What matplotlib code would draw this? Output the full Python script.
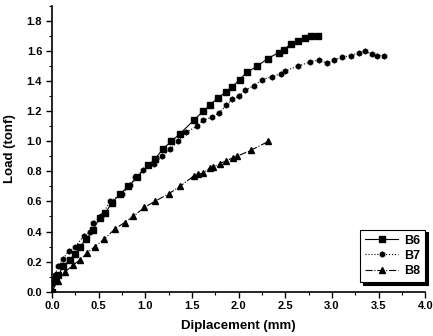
import numpy as np
import matplotlib
matplotlib.use("Agg")
import matplotlib.pyplot as plt
from matplotlib.ticker import MultipleLocator

# load-displacement data
b6_x = [0, 0.03, 0.07, 0.12, 0.19, 0.25, 0.30, 0.37, 0.44, 0.51, 0.57, 0.64, 0.73,
        0.82, 0.91, 1.03, 1.10, 1.19, 1.28, 1.37, 1.52, 1.62, 1.69, 1.78, 1.87, 1.93,
        2.01, 2.09, 2.20, 2.31, 2.43, 2.49, 2.56, 2.64, 2.71, 2.78, 2.85]
b6_y = [0, 0.08, 0.11, 0.17, 0.21, 0.25, 0.30, 0.35, 0.41, 0.49, 0.52, 0.59, 0.65,
        0.70, 0.76, 0.84, 0.88, 0.95, 1.00, 1.05, 1.14, 1.20, 1.24, 1.29, 1.33, 1.36,
        1.41, 1.46, 1.50, 1.55, 1.59, 1.61, 1.65, 1.67, 1.69, 1.70, 1.70]

b7_x = [0, 0.01, 0.03, 0.07, 0.12, 0.18, 0.25, 0.34, 0.41, 0.44, 0.53, 0.62, 0.75,
        0.84, 0.89, 0.98, 1.09, 1.18, 1.27, 1.35, 1.44, 1.55, 1.62, 1.71, 1.79, 1.87,
        1.93, 2.00, 2.07, 2.16, 2.25, 2.36, 2.45, 2.50, 2.64, 2.77, 2.86, 2.95, 3.02,
        3.11, 3.20, 3.29, 3.36, 3.43, 3.48, 3.56]
b7_y = [0, 0.06, 0.11, 0.17, 0.22, 0.27, 0.30, 0.37, 0.40, 0.46, 0.50, 0.60, 0.65,
        0.71, 0.76, 0.81, 0.85, 0.90, 0.95, 1.00, 1.06, 1.10, 1.14, 1.16, 1.19, 1.24,
        1.28, 1.30, 1.34, 1.37, 1.41, 1.43, 1.45, 1.47, 1.50, 1.53, 1.54, 1.52, 1.54,
        1.56, 1.57, 1.59, 1.60, 1.58, 1.57, 1.57]

b8_x = [0, 0.06, 0.14, 0.23, 0.30, 0.38, 0.46, 0.56, 0.68, 0.78, 0.87, 0.99, 1.10,
        1.25, 1.37, 1.52, 1.57, 1.62, 1.69, 1.73, 1.80, 1.86, 1.94, 1.98, 2.13, 2.32]
b8_y = [0, 0.07, 0.13, 0.18, 0.21, 0.26, 0.30, 0.35, 0.42, 0.46, 0.50, 0.56, 0.60,
        0.65, 0.70, 0.77, 0.78, 0.79, 0.82, 0.83, 0.85, 0.87, 0.89, 0.90, 0.94, 1.00]

plt.rcParams['font.family'] = ['Liberation Sans', 'DejaVu Sans']
plt.rcParams['font.weight'] = 'bold'

fig = plt.figure(figsize=(4.33, 3.36), dpi=100)
ax = fig.add_axes([0.120, 0.132, 0.862, 0.850])

ax.plot(b6_x, b6_y, '-', color='black', lw=0.8, marker='s', ms=4, label='B6')
ax.plot(b7_x, b7_y, ':', color='black', lw=0.8, marker='h', ms=3.5, label='B7')
ax.plot(b8_x, b8_y, '-.', color='black', lw=0.8, marker='^', ms=4.5, label='B8')

ax.set_xlim(0, 4.0)
ax.set_ylim(0, 1.9)
ax.xaxis.set_major_locator(MultipleLocator(0.5))
ax.xaxis.set_minor_locator(MultipleLocator(0.25))
ax.yaxis.set_major_locator(MultipleLocator(0.2))
ax.yaxis.set_minor_locator(MultipleLocator(0.1))

for side in ['top', 'right']:
    ax.spines[side].set_visible(False)
for side in ['left', 'bottom']:
    ax.spines[side].set_linewidth(1.2)

ax.tick_params(which='major', direction='out', length=4, width=1, labelsize=8, pad=3)
ax.tick_params(which='minor', direction='out', length=2, width=0.8)

ax.set_xlabel('Diplacement (mm)', fontsize=9.5, fontweight='bold', labelpad=6)
ax.set_ylabel('Load (tonf)', fontsize=9.5, fontweight='bold', labelpad=8)

leg = ax.legend(loc='lower right', bbox_to_anchor=(1.0, 0.034), borderaxespad=0,
                fancybox=False, shadow={'color': 'black', 'alpha': 1, 'ox': 2, 'oy': -2},
                edgecolor='black', framealpha=1, fontsize=9, handlelength=2.6,
                labelspacing=0.25, borderpad=0.4, handletextpad=0.5)
leg.get_frame().set_linewidth(0.8)

fig.savefig('out.png', dpi=100)
